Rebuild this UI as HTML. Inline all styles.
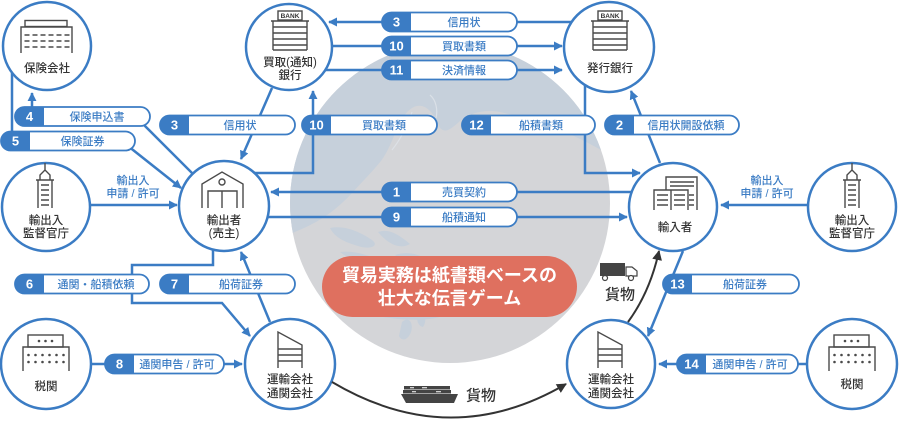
<!DOCTYPE html>
<html><head><meta charset="utf-8">
<style>
html,body{margin:0;padding:0;background:#fff;overflow:hidden;}
svg{display:block;}
.nl{font-family:"Liberation Sans","Noto Sans CJK JP",sans-serif;font-size:11.5px;fill:#333;text-anchor:middle;font-weight:500;}
.pn{font-family:"Liberation Sans","Noto Sans CJK JP",sans-serif;font-size:13px;fill:#fff;text-anchor:middle;font-weight:bold;}
.pl{font-family:"Liberation Sans","Noto Sans CJK JP",sans-serif;font-size:11px;fill:#3b7cc4;text-anchor:middle;font-weight:500;}
.bl{font-family:"Liberation Sans","Noto Sans CJK JP",sans-serif;font-size:11px;fill:#3b7cc4;text-anchor:middle;font-weight:500;}
.ic{fill:none;stroke:#4a4a4a;stroke-width:1.4;}
.ln{fill:none;stroke:#3b7cc4;stroke-width:2.5;}
.pb{fill:#fff;stroke:#3b7cc4;stroke-width:1.8;}
.pf{fill:#3b7cc4;}
.nd{fill:#fff;stroke:#3b7cc4;stroke-width:2.5;}
</style></head>
<body>
<svg width="900" height="421" viewBox="0 0 900 421" xmlns="http://www.w3.org/2000/svg">
<defs>
<marker id="ab" viewBox="0 0 10 10" refX="9" refY="5" markerWidth="9" markerHeight="9" markerUnits="userSpaceOnUse" orient="auto"><path d="M0,0 L10,5 L0,10 z" fill="#3b7cc4"/></marker>
<marker id="ak" viewBox="0 0 10 10" refX="9" refY="5" markerWidth="10" markerHeight="10" markerUnits="userSpaceOnUse" orient="auto"><path d="M0,0 L10,5 L0,10 z" fill="#333"/></marker>
<clipPath id="gc"><circle cx="450" cy="203" r="160"/></clipPath>
</defs>

<!-- globe -->
<circle cx="450" cy="203" r="160" fill="#d4d5d8"/>
<g clip-path="url(#gc)" fill="#c6d0db">
<path d="M285,40 H615 V158 C598,148 580,138 560,130 C540,123 518,116 500,112 C484,109 470,113 460,121 C452,128 446,134 440,128 C436,118 430,108 422,106 C412,104 404,114 398,126 C393,138 389,150 381,161 C372,172 362,182 352,193 C342,204 330,214 316,222 C305,228 295,232 285,236 Z"/>
<path d="M330,228 C345,225 360,232 372,240 C380,246 370,250 358,246 C345,242 335,238 330,228 Z"/>
<path d="M378,232 C390,228 400,236 410,244 C400,250 388,244 378,232 Z"/>
<path d="M340,252 C355,250 370,256 384,262 C372,266 352,262 340,252 Z"/>
<path d="M395,255 C410,250 425,256 432,264 C420,268 405,264 395,255 Z"/>
<path d="M360,300 C390,290 430,292 455,305 C450,320 420,322 390,318 C372,316 362,310 360,300 Z"/>
<path d="M402,322 C408,316 414,322 411,332 C408,340 402,342 399,336 Z"/>
<path d="M418,314 C424,309 428,320 423,327 C418,326 416,320 418,314 Z"/>
</g>
<g clip-path="url(#gc)" fill="none" stroke="#dfe4ea" stroke-width="1.2" opacity="0.8">
<path d="M412,112 C408,125 400,140 392,150"/>
<path d="M430,95 C436,100 438,110 436,118"/>
</g>

<!-- node circles -->
<circle class="nd" cx="47" cy="46" r="44"/>
<circle class="nd" cx="289" cy="47" r="43"/>
<circle class="nd" cx="609" cy="47" r="45"/>
<circle class="nd" cx="46" cy="207" r="44"/>
<circle class="nd" cx="224" cy="206" r="45"/>
<circle class="nd" cx="673" cy="207" r="44"/>
<circle class="nd" cx="852" cy="207" r="44"/>
<circle class="nd" cx="46" cy="364" r="45"/>
<circle class="nd" cx="290" cy="364" r="45"/>
<circle class="nd" cx="611" cy="364" r="44"/>
<circle class="nd" cx="852" cy="364" r="45"/>

<!-- connectors -->
<path class="ln" d="M32,107 L32,93" marker-end="url(#ab)"/>
<path class="ln" d="M12,73 L12,132"/>
<path class="ln" d="M143,124 L192,173"/>
<path class="ln" d="M128,146 L181,188" marker-end="url(#ab)"/>
<path class="ln" d="M272,88 L241,159" marker-end="url(#ab)"/>
<path class="ln" d="M254,173 L313,173 L313,91" marker-end="url(#ab)"/>
<path class="ln" d="M585,85 L585,173 L640,173" marker-end="url(#ab)"/>
<path class="ln" d="M660,163 L631,91" marker-end="url(#ab)"/>
<path class="ln" d="M572,22 L329,22" marker-end="url(#ab)"/>
<path class="ln" d="M332,46 L562,46" marker-end="url(#ab)"/>
<path class="ln" d="M325,70 L562,70" marker-end="url(#ab)"/>
<path class="ln" d="M631,192 L271,192" marker-end="url(#ab)"/>
<path class="ln" d="M268,217 L627,217" marker-end="url(#ab)"/>
<path class="ln" d="M90,205 L177,205" marker-end="url(#ab)"/>
<path class="ln" d="M808,205 L721,205" marker-end="url(#ab)"/>
<path class="ln" d="M213,250 L213,265 L132,265 L132,303 L222,303 L250,336" marker-end="url(#ab)"/>
<path class="ln" d="M270,322 L241,252" marker-end="url(#ab)"/>
<path class="ln" d="M91,364 L242,364" marker-end="url(#ab)"/>
<path class="ln" d="M683,251 L648,336" marker-end="url(#ab)"/>
<path class="ln" d="M808,364 L659,364" marker-end="url(#ab)"/>

<!-- cargo curves -->
<path d="M332,382 Q450,452 566,384" fill="none" stroke="#333" stroke-width="2" marker-end="url(#ak)"/>
<path d="M628,322 Q650,292 659,251" fill="none" stroke="#333" stroke-width="2" marker-end="url(#ak)"/>

<!-- labels for supervision -->
<text class="bl" x="133" y="184">輸出入</text>
<text class="bl" x="133" y="197">申請 / 許可</text>
<text class="bl" x="767" y="184">輸出入</text>
<text class="bl" x="767" y="197">申請 / 許可</text>

<!-- pills -->
<g>
<rect class="pb" x="382" y="12.5" width="135" height="19" rx="9.5"/>
<path class="pf" d="M391.5,12.5 H411 V31.5 H391.5 A9.5,9.5 0 0 1 391.5,12.5 Z"/>
<text class="pn" x="396.5" y="26.5">3</text><text class="pl" x="464" y="26">信用状</text>

<rect class="pb" x="382" y="36.5" width="135" height="19" rx="9.5"/>
<path class="pf" d="M391.5,36.5 H411 V55.5 H391.5 A9.5,9.5 0 0 1 391.5,36.5 Z"/>
<text class="pn" x="396.5" y="50.5">10</text><text class="pl" x="464" y="50">買取書類</text>

<rect class="pb" x="382" y="60.5" width="135" height="19" rx="9.5"/>
<path class="pf" d="M391.5,60.5 H411 V79.5 H391.5 A9.5,9.5 0 0 1 391.5,60.5 Z"/>
<text class="pn" x="396.5" y="74.5">11</text><text class="pl" x="464" y="74">決済情報</text>

<rect class="pb" x="15" y="107" width="135" height="19" rx="9.5"/>
<path class="pf" d="M24.5,107 H44 V126 H24.5 A9.5,9.5 0 0 1 24.5,107 Z"/>
<text class="pn" x="29.5" y="121">4</text><text class="pl" x="97" y="120.5">保険申込書</text>

<rect class="pb" x="1" y="131.5" width="134" height="19" rx="9.5"/>
<path class="pf" d="M10.5,131.5 H30 V150.5 H10.5 A9.5,9.5 0 0 1 10.5,131.5 Z"/>
<text class="pn" x="15.5" y="145.5">5</text><text class="pl" x="82.5" y="145">保険証券</text>

<rect class="pb" x="160" y="115.5" width="135" height="19" rx="9.5"/>
<path class="pf" d="M169.5,115.5 H189 V134.5 H169.5 A9.5,9.5 0 0 1 169.5,115.5 Z"/>
<text class="pn" x="174.5" y="129.5">3</text><text class="pl" x="240" y="129">信用状</text>

<rect class="pb" x="302" y="115.5" width="135" height="19" rx="9.5"/>
<path class="pf" d="M311.5,115.5 H331 V134.5 H311.5 A9.5,9.5 0 0 1 311.5,115.5 Z"/>
<text class="pn" x="316.5" y="129.5">10</text><text class="pl" x="384" y="129">買取書類</text>

<rect class="pb" x="462" y="115.5" width="133" height="19" rx="9.5"/>
<path class="pf" d="M471.5,115.5 H491 V134.5 H471.5 A9.5,9.5 0 0 1 471.5,115.5 Z"/>
<text class="pn" x="476.5" y="129.5">12</text><text class="pl" x="541" y="129">船積書類</text>

<rect class="pb" x="605" y="115.5" width="134" height="19" rx="9.5"/>
<path class="pf" d="M614.5,115.5 H634 V134.5 H614.5 A9.5,9.5 0 0 1 614.5,115.5 Z"/>
<text class="pn" x="619.5" y="129.5">2</text><text class="pl" x="686" y="129">信用状開設依頼</text>

<rect class="pb" x="382" y="182.5" width="135" height="19" rx="9.5"/>
<path class="pf" d="M391.5,182.5 H411 V201.5 H391.5 A9.5,9.5 0 0 1 391.5,182.5 Z"/>
<text class="pn" x="396.5" y="196.5">1</text><text class="pl" x="464" y="196">売買契約</text>

<rect class="pb" x="382" y="207.5" width="135" height="19" rx="9.5"/>
<path class="pf" d="M391.5,207.5 H411 V226.5 H391.5 A9.5,9.5 0 0 1 391.5,207.5 Z"/>
<text class="pn" x="396.5" y="221.5">9</text><text class="pl" x="464" y="221">船積通知</text>

<rect class="pb" x="15" y="274.5" width="134" height="19" rx="9.5"/>
<path class="pf" d="M24.5,274.5 H44 V293.5 H24.5 A9.5,9.5 0 0 1 24.5,274.5 Z"/>
<text class="pn" x="29.5" y="288.5">6</text><text class="pl" x="96" y="288">通関・船積依頼</text>

<rect class="pb" x="160" y="274.5" width="135" height="19" rx="9.5"/>
<path class="pf" d="M169.5,274.5 H189 V293.5 H169.5 A9.5,9.5 0 0 1 169.5,274.5 Z"/>
<text class="pn" x="174.5" y="288.5">7</text><text class="pl" x="241" y="288">船荷証券</text>

<rect class="pb" x="663" y="274.5" width="136" height="19" rx="9.5"/>
<path class="pf" d="M672.5,274.5 H692 V293.5 H672.5 A9.5,9.5 0 0 1 672.5,274.5 Z"/>
<text class="pn" x="677.5" y="288.5">13</text><text class="pl" x="745" y="288">船荷証券</text>

<rect class="pb" x="105" y="354.5" width="119" height="19" rx="9.5"/>
<path class="pf" d="M114.5,354.5 H134 V373.5 H114.5 A9.5,9.5 0 0 1 114.5,354.5 Z"/>
<text class="pn" x="119.5" y="368.5">8</text><text class="pl" x="177" y="368">通関申告 / 許可</text>

<rect class="pb" x="677" y="354.5" width="121" height="19" rx="9.5"/>
<path class="pf" d="M686.5,354.5 H706 V373.5 H686.5 A9.5,9.5 0 0 1 686.5,354.5 Z"/>
<text class="pn" x="691.5" y="368.5">14</text><text class="pl" x="750" y="368">通関申告 / 許可</text>
</g>

<!-- central message -->
<rect x="322" y="256" width="255" height="61" rx="30.5" fill="#df705f"/>
<text x="449.5" y="281.5" text-anchor="middle" font-family="'Liberation Sans','Noto Sans CJK JP',sans-serif" font-size="18" font-weight="bold" fill="#fff">貿易実務は紙書類ベースの</text>
<text x="449.5" y="304.5" text-anchor="middle" font-family="'Liberation Sans','Noto Sans CJK JP',sans-serif" font-size="18" font-weight="bold" fill="#fff">壮大な伝言ゲーム</text>

<!-- icons -->
<g class="ic">
<rect x="25" y="20.5" width="42" height="6"/>
<path d="M21,53 V27 H72 V53"/>
<path d="M24.5,35 H69.5 M24.5,41 H69.5 M24.5,47 H69.5" stroke-dasharray="5 3"/>
</g>
<g class="ic">
<rect x="278" y="11" width="24" height="9" fill="#fff"/>
<path d="M271,21 H309 M273,21 V50 M307,21 V50 M273,27 H307 M273,33 H307 M273,39 H307 M273,45 H307 M273,50 H307"/>
</g>
<text x="290" y="18" text-anchor="middle" font-family="'Liberation Sans',sans-serif" font-size="6.5" font-weight="bold" fill="#333">BANK</text>
<g class="ic">
<rect x="598" y="11" width="24" height="9" fill="#fff"/>
<path d="M591,21 H629 M593,21 V50 M627,21 V50 M593,27 H627 M593,33 H627 M593,39 H627 M593,45 H627 M593,50 H627"/>
</g>
<text x="610" y="18" text-anchor="middle" font-family="'Liberation Sans',sans-serif" font-size="6.5" font-weight="bold" fill="#333">BANK</text>
<g class="ic">
<path d="M45,163 V171 M40,180 V175 L45,170 L50,175 V180 M36,180 H54 M38,180 V208 M52,180 V208 M41,185 H49 M41,190 H49 M41,195 H49 M41,200 H49 M41,205 H49"/>
</g>
<g class="ic">
<path d="M852,163 V171 M847,180 V175 L852,170 L857,175 V180 M843,180 H861 M845,180 V208 M859,180 V208 M848,185 H856 M848,190 H856 M848,195 H856 M848,200 H856 M848,205 H856"/>
</g>
<g class="ic">
<path d="M202,208 V184 L222,172 L243,184 V208"/>
<path d="M208,208 V191 H237 V208 M222,191 V208"/>
<circle cx="222" cy="182" r="3"/>
</g>
<g class="ic">
<path d="M666,190 V177 H697 V210 M670,182 H694 M670,186 H694 M689,195 H694 M689,200 H694 M689,205 H694"/>
<path d="M654,210 V190 H688 V210 M671,190 V210 M657,195 H668 M657,200 H668 M657,205 H668 M674,195 H685 M674,200 H685 M674,205 H685"/>
</g>
<g class="ic">
<rect x="28" y="335" width="35" height="12"/>
<path d="M23,371 V347 H69 V371"/>
</g>
<g fill="#4a4a4a">
<circle cx="39" cy="341" r="1.3"/><circle cx="45.5" cy="341" r="1.3"/><circle cx="52" cy="341" r="1.3"/>
<circle cx="28.5" cy="355" r="1.3"/><circle cx="35.5" cy="355" r="1.3"/><circle cx="42.5" cy="355" r="1.3"/><circle cx="49.5" cy="355" r="1.3"/><circle cx="56.5" cy="355" r="1.3"/><circle cx="63.5" cy="355" r="1.3"/>
<circle cx="28.5" cy="362" r="1.3"/><circle cx="35.5" cy="362" r="1.3"/><circle cx="42.5" cy="362" r="1.3"/><circle cx="49.5" cy="362" r="1.3"/><circle cx="56.5" cy="362" r="1.3"/><circle cx="63.5" cy="362" r="1.3"/>
</g>
<g class="ic">
<rect x="834" y="335" width="35" height="12"/>
<path d="M829,371 V347 H875 V371"/>
</g>
<g fill="#4a4a4a">
<circle cx="845" cy="341" r="1.3"/><circle cx="851.5" cy="341" r="1.3"/><circle cx="858" cy="341" r="1.3"/>
<circle cx="834.5" cy="355" r="1.3"/><circle cx="841.5" cy="355" r="1.3"/><circle cx="848.5" cy="355" r="1.3"/><circle cx="855.5" cy="355" r="1.3"/><circle cx="862.5" cy="355" r="1.3"/><circle cx="869.5" cy="355" r="1.3"/>
<circle cx="834.5" cy="362" r="1.3"/><circle cx="841.5" cy="362" r="1.3"/><circle cx="848.5" cy="362" r="1.3"/><circle cx="855.5" cy="362" r="1.3"/><circle cx="862.5" cy="362" r="1.3"/><circle cx="869.5" cy="362" r="1.3"/>
</g>
<g class="ic">
<path d="M278,368 V332 L302,345 V368 M278,349 H302 M278,355 H302 M278,361 H302"/>
<path d="M598,368 V332 L622,345 V368 M598,349 H622 M598,355 H622 M598,361 H622"/>
</g>

<!-- truck -->
<rect x="600" y="263" width="25" height="13" fill="#444"/>
<path d="M626,267 H632 L637,271 V276 H626 Z" fill="#fff" stroke="#444" stroke-width="1.2"/>
<circle cx="605" cy="278" r="2.5" fill="#fff" stroke="#444" stroke-width="1.2"/>
<circle cx="631" cy="278" r="2.5" fill="#fff" stroke="#444" stroke-width="1.2"/>
<text x="620" y="299.5" text-anchor="middle" font-family="'Liberation Sans','Noto Sans CJK JP',sans-serif" font-size="15" font-weight="500" fill="#333">貨物</text>

<!-- ship -->
<g>
<rect x="404" y="386" width="46" height="3.5" fill="#444"/>
<rect x="403" y="390" width="48" height="3.5" fill="#444"/>
<path d="M401,394 H458 L454,403 H406 Z" fill="#444"/>
<path d="M410,387.7 H414 M422,387.7 H427 M436,391.7 H441 M412,391.7 H416" stroke="#fff" stroke-width="1"/>
</g>
<text x="481" y="400.5" text-anchor="middle" font-family="'Liberation Sans','Noto Sans CJK JP',sans-serif" font-size="15" font-weight="500" fill="#333">貨物</text>

<!-- node labels -->
<text class="nl" x="47" y="72">保険会社</text>
<text class="nl" x="290" y="66">買取(通知)</text>
<text class="nl" x="290" y="79">銀行</text>
<text class="nl" x="610" y="72">発行銀行</text>
<text class="nl" x="46" y="224">輸出入</text>
<text class="nl" x="46" y="237">監督官庁</text>
<text class="nl" x="224" y="224">輸出者</text>
<text class="nl" x="224" y="237">(売主)</text>
<text class="nl" x="675" y="231">輸入者</text>
<text class="nl" x="852" y="224">輸出入</text>
<text class="nl" x="852" y="237">監督官庁</text>
<text class="nl" x="46" y="390">税関</text>
<text class="nl" x="290" y="383">運輸会社</text>
<text class="nl" x="290" y="397">通関会社</text>
<text class="nl" x="611" y="383">運輸会社</text>
<text class="nl" x="611" y="397">通関会社</text>
<text class="nl" x="852" y="388">税関</text>
</svg>
</body></html>
